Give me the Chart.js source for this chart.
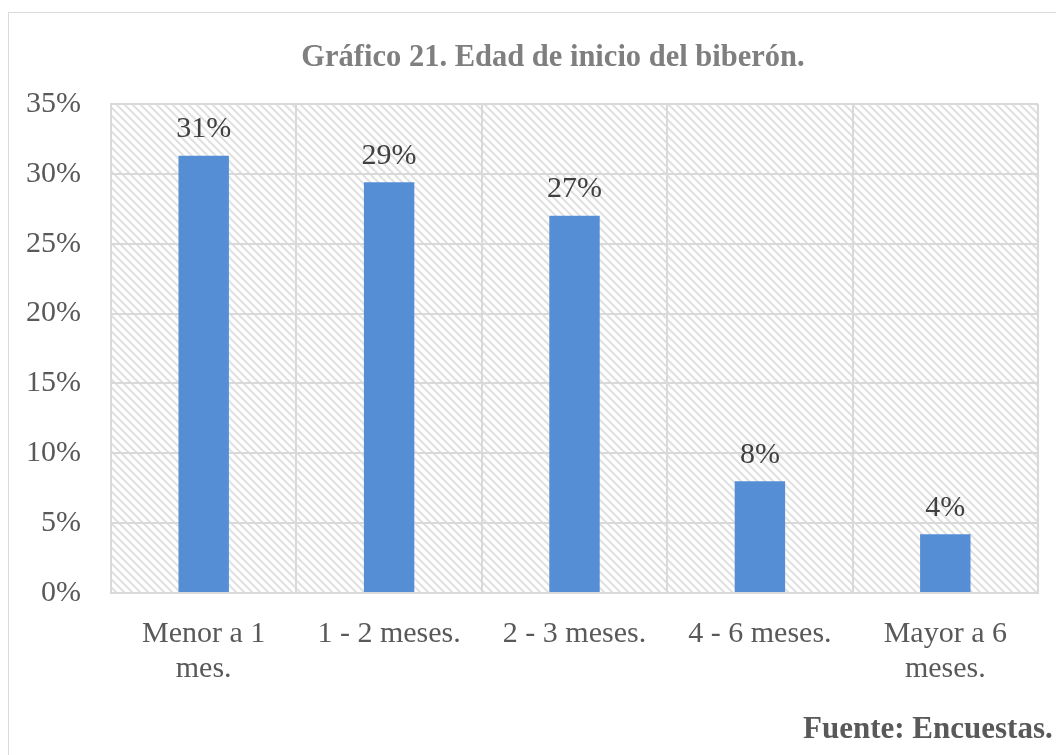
<!DOCTYPE html>
<html>
<head>
<meta charset="utf-8">
<script src="https://cdn.jsdelivr.net/npm/chart.js@4"></script>
<style>
  body { margin: 0; background: #fff; overflow: hidden; width: 1056px; height: 755px; position: relative; }
  #frame { position: absolute; left: 8px; top: 12px; width: 1200px; height: 900px; border: 1px solid #d9d9d9; box-sizing: border-box; }
  #chartBox { position: absolute; left: 8px; top: 12px; width: 1090px; height: 760px; }
  #source { position: absolute; left: 803px; top: 712px; font: bold 31px "Liberation Serif", "Times New Roman", serif; line-height: 31px; color: #595959; white-space: nowrap; }
</style>
</head>
<body>
<div id="frame"></div>
<div id="chartBox"><canvas id="barChart"></canvas></div>
<div id="source">Fuente: Encuestas.</div>
<script>
// chart data
const categories = [['Menor a 1', 'mes.'], '1 - 2 meses.', '2 - 3 meses.', '4 - 6 meses.', ['Mayor a 6', 'meses.']];
const percentages = [31.3, 29.4, 27.0, 8.0, 4.2];
const yTicks = [0, 5, 10, 15, 20, 25, 30, 35];

const serif = '"Liberation Serif", "Times New Roman", serif';

// diagonal hatch for the plot background
function makeHatch() {
    const s = 8;
    const c = document.createElement('canvas');
    c.width = s; c.height = s;
    const g = c.getContext('2d');
    g.fillStyle = '#fff';
    g.fillRect(0, 0, s, s);
    g.strokeStyle = '#e1e1e1';
    g.lineWidth = 2.2;
    for (let k = -1; k <= 1; k++) {
        g.beginPath();
        g.moveTo(-2, -2 + k * s);
        g.lineTo(s + 2, s + 2 + k * s);
        g.stroke();
    }
    return g.createPattern(c, 'repeat');
}

const hatchBackground = {
    id: 'hatchBackground',
    beforeDraw(chart) {
        const { ctx, chartArea: a } = chart;
        ctx.save();
        ctx.fillStyle = makeHatch();
        ctx.fillRect(a.left, a.top, a.right - a.left, a.bottom - a.top);
        ctx.restore();
    }
};

const valueLabels = {
    id: 'valueLabels',
    afterDatasetsDraw(chart) {
        const ctx = chart.ctx;
        const meta = chart.getDatasetMeta(0);
        ctx.save();
        ctx.font = '30px ' + serif;
        ctx.fillStyle = '#404040';
        ctx.textAlign = 'center';
        ctx.textBaseline = 'alphabetic';
        meta.data.forEach((bar, i) => {
            ctx.fillText(Math.round(percentages[i]) + '%', bar.x, bar.y - 18.5);
        });
        ctx.restore();
    }
};

new Chart(document.getElementById('barChart'), {
    type: 'bar',
    data: {
        labels: categories,
        datasets: [{
            data: percentages,
            backgroundColor: '#558ED5',
            borderWidth: 0,
            categoryPercentage: 1,
            barPercentage: 0.272
        }]
    },
    options: {
        responsive: true,
        maintainAspectRatio: false,
        animation: false,
        layout: { padding: 0 },
        plugins: {
            legend: { display: false },
            tooltip: { enabled: false },
            title: {
                display: true,
                text: 'Gráfico 21. Edad de inicio del biberón.',
                color: '#7f7f7f',
                font: { family: serif, size: 30.5, weight: 'bold', lineHeight: 1.2 },
                padding: { top: 27.5, bottom: 27.9 }
            }
        },
        scales: {
            x: {
                grid: { color: '#d9d9d9', lineWidth: 2, drawTicks: false, offset: true },
                border: { color: '#d9d9d9', width: 2 },
                ticks: {
                    color: '#595959',
                    font: { family: serif, size: 30, lineHeight: 1.15 },
                    padding: 24,
                    maxRotation: 0,
                    autoSkip: false
                },
                afterFit(scale) { scale.height = 179; }
            },
            y: {
                min: 0,
                max: 35,
                afterBuildTicks(scale) { scale.ticks = yTicks.map(v => ({ value: v })); },
                grid: { color: '#d9d9d9', lineWidth: 2, drawTicks: false },
                border: { color: '#d9d9d9', width: 2 },
                ticks: {
                    color: '#595959',
                    font: { family: serif, size: 30 },
                    padding: 30,
                    callback: v => v + '%'
                },
                afterFit(scale) { scale.width = 103; }
            },
            // empty right-hand axis that only reserves the blank margin
            spacer: {
                type: 'linear',
                position: 'right',
                grid: { display: false, drawTicks: false },
                border: { display: false },
                ticks: { display: false },
                afterFit(scale) { scale.width = 60; }
            }
        }
    },
    plugins: [hatchBackground, valueLabels]
});
</script>
</body>
</html>
